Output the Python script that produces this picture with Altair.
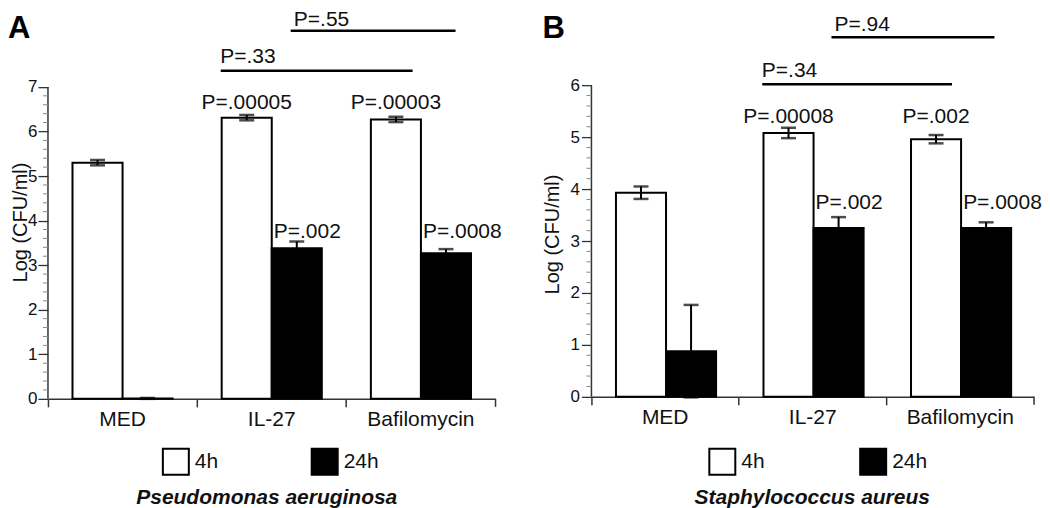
import altair as alt
import pandas as pd

FONT = "Liberation Sans"

treatments = ["MED", "IL-27", "Bafilomycin"]
times = ["4h", "24h"]

# ---------------- Panel A : Pseudomonas aeruginosa ----------------
a_mean_4h = [5.30, 6.31, 6.27]
a_err_4h = [0.06, 0.06, 0.06]
a_mean_24h = [0.01, 3.38, 3.27]
a_err_24h = [0.01, 0.15, 0.09]
a_p_4h = ["", "P=.00005", "P=.00003"]
a_p_24h = ["", "P=.002", "P=.0008"]
a_p_4h_y = 6.51
a_p_24h_y = 3.62
a_bracket_labels = ["P=.33", "P=.55"]
a_bracket_y = [7.36, 8.26]
a_bracket_text_y = [7.53, 8.37]

# ---------------- Panel B : Staphylococcus aureus ----------------
b_mean_4h = [3.93, 5.08, 4.96]
b_err_4h = [0.12, 0.10, 0.08]
b_mean_24h = [0.88, 3.25, 3.25]
b_err_24h = [0.89, 0.21, 0.11]
b_p_4h = ["", "P=.00008", "P=.002"]
b_p_24h = ["", "P=.002", "P=.0008"]
b_p_4h_y = 5.27
b_p_24h_y = 3.62
b_bracket_labels = ["P=.34", "P=.94"]
b_bracket_y = [6.02, 6.92]
b_bracket_text_y = [6.15, 7.05]

# bracket extents in category units (0..3 across the x axis)
bracket_start = [1.158, 1.627]
bracket_end = [2.444, 2.732]
bracket_text_x = [1.155, 1.648]


def build_panel(letter, species, m4, e4, m24, e24, p4, p24, p4y, p24y,
                blab, by, bty, axis_max, ytop, W, H,
                letter_x, title_x, title_y, label_pad, legend_x, legend_pad, species_x):
    rows = []
    for i, t in enumerate(treatments):
        rows.append(dict(treatment=t, time="4h", value=m4[i], lo=m4[i] - e4[i],
                         hi=m4[i] + e4[i], p=p4[i], py=p4y))
        rows.append(dict(treatment=t, time="24h", value=m24[i], lo=m24[i] - e24[i],
                         hi=m24[i] + e24[i], p=p24[i], py=p24y))
    df = pd.DataFrame(rows)
    df4 = df[df.time == "4h"]
    df24 = df[df.time == "24h"]

    xscale = alt.Scale(domain=treatments, paddingInner=0, paddingOuter=0)
    offscale = alt.Scale(domain=times, paddingInner=0, paddingOuter=0.49)
    yscale = alt.Scale(domain=[0, ytop], nice=False, zero=False)
    qscale = alt.Scale(domain=[0, 3], nice=False, zero=False)

    major_vals = list(range(axis_max + 1))
    minor_vals = [round(i + k * 0.2, 1) for i in range(axis_max) for k in range(1, 5)]

    xaxis = alt.Axis(title=None, bandPosition=0, tickSize=8, tickColor="#333",
                     tickWidth=1.5, domainColor="#333", domainWidth=1.5,
                     labelFontSize=21, labelFont=FONT, labelColor="#111",
                     labelPadding=2, labelAngle=0)
    yaxis = alt.Axis(title="Log (CFU/ml)", values=major_vals, format="d", domain=False,
                     grid=False, tickSize=10, tickColor="#333", tickWidth=1.3,
                     labelFontSize=17, labelFont=FONT, labelColor="#111",
                     labelPadding=label_pad, labelOverlap=False,
                     titleFontSize=20, titleFont=FONT, titleFontWeight="normal",
                     titleColor="#111", titleAngle=270, titleAlign="center",
                     titleBaseline="middle", titleX=title_x, titleY=title_y)

    def Y(field):
        return alt.Y(field, scale=yscale, axis=yaxis)

    X = alt.X("treatment:N", sort=treatments, scale=xscale, axis=xaxis)
    Xn = alt.X("treatment:N", sort=treatments, scale=xscale, axis=None)
    XO = alt.XOffset("time:N", sort=times, scale=offscale)

    legend = alt.Legend(orient="none", legendX=legend_x, legendY=439, direction="horizontal",
                        title=None, symbolType="square", symbolSize=676,
                        symbolStrokeColor="black", symbolStrokeWidth=2,
                        labelFontSize=21, labelFont=FONT, labelColor="#111",
                        labelOffset=5, columnPadding=legend_pad, padding=0)

    bars = alt.Chart(df).mark_bar(stroke="black", strokeWidth=2).encode(
        x=X, xOffset=XO,
        y=Y("value:Q"),
        fill=alt.Fill("time:N", sort=times,
                      scale=alt.Scale(domain=times, range=["white", "black"]),
                      legend=legend),
    )
    whisk = alt.Chart(df).mark_rule(color="black", strokeWidth=2).encode(
        x=Xn, xOffset=XO, y=Y("lo:Q"), y2="hi:Q",
    )
    caps = alt.Chart(df).transform_fold(["lo", "hi"], as_=["end", "ev"]).mark_tick(
        color="black", thickness=2.5, size=15
    ).encode(x=Xn, xOffset=XO, y=Y("ev:Q"))
    lab4 = alt.Chart(df4).mark_text(align="center", baseline="alphabetic", fontSize=21,
                                    font=FONT, color="#111").encode(
        x=Xn, xOffset=XO, y=Y("py:Q"), text="p:N")
    lab24 = alt.Chart(df24).mark_text(align="left", baseline="alphabetic", fontSize=21,
                                      font=FONT, color="#111", dx=-23).encode(
        x=Xn, xOffset=XO, y=Y("py:Q"), text="p:N")

    bdf = pd.DataFrame(dict(x0=bracket_start, x1=bracket_end, by=by, label=blab,
                            tx=bracket_text_x, ty=bty))
    brule = alt.Chart(bdf).mark_rule(color="black", strokeWidth=2.5).encode(
        x=alt.X("x0:Q", scale=qscale, axis=None), x2="x1:Q", y=Y("by:Q"))
    btext = alt.Chart(bdf).mark_text(align="left", baseline="alphabetic", fontSize=21,
                                     font=FONT, color="#111").encode(
        x=alt.X("tx:Q", scale=qscale, axis=None), y=Y("ty:Q"), text="label:N")

    endtick = alt.Chart(pd.DataFrame({"k": [0]})).mark_rule(color="#333", strokeWidth=1.5).encode(
        x=alt.value(W), y=alt.value(H), y2=alt.value(H + 8))
    yline = alt.Chart(pd.DataFrame({"y0": [0], "y1": [axis_max]})).mark_rule(
        color="#333", strokeWidth=1.5).encode(x=alt.value(0), y=Y("y0:Q"), y2="y1:Q")
    minor = alt.Chart(pd.DataFrame({"m": minor_vals})).mark_rule(
        color="#888", strokeWidth=1).encode(x=alt.value(-5), x2=alt.value(0), y=Y("m:Q"))

    letter_t = alt.Chart(pd.DataFrame({"t": [letter]})).mark_text(
        align="left", baseline="alphabetic", fontSize=31, fontWeight="bold", font=FONT,
        color="black").encode(x=alt.value(letter_x), y=alt.value(28.5), text="t:N")
    species_t = alt.Chart(pd.DataFrame({"t": [species]})).mark_text(
        align="center", baseline="alphabetic", fontSize=21, fontWeight="bold",
        fontStyle="italic", font=FONT, color="#111").encode(
        x=alt.value(species_x), y=alt.value(495), text="t:N")

    return alt.layer(
        bars, yline, minor, whisk, caps, lab4, lab24, brule, btext, endtick, letter_t, species_t
    ).resolve_scale(x="independent").properties(width=W, height=H)


panel_a = build_panel("A", "Pseudomonas aeruginosa",
                      a_mean_4h, a_err_4h, a_mean_24h, a_err_24h,
                      a_p_4h, a_p_24h, a_p_4h_y, a_p_24h_y,
                      a_bracket_labels, a_bracket_y, a_bracket_text_y,
                      axis_max=7, ytop=390 / 44.61, W=448, H=390,
                      letter_x=-40, title_x=-27.5, title_y=213, label_pad=1,
                      legend_x=114, legend_pad=89, species_x=219)

panel_b = build_panel("B", "Staphylococcus aureus",
                      b_mean_4h, b_err_4h, b_mean_24h, b_err_24h,
                      b_p_4h, b_p_24h, b_p_4h_y, b_p_24h_y,
                      b_bracket_labels, b_bracket_y, b_bracket_text_y,
                      axis_max=6, ytop=388 / 52.0, W=443, H=388,
                      letter_x=-49, title_x=-39, title_y=225, label_pad=2,
                      legend_x=117, legend_pad=91, species_x=221)

chart = alt.hconcat(panel_a, panel_b, spacing=96, bounds="flush").resolve_scale(
    x="independent", y="independent", fill="independent"
).resolve_legend(fill="independent").properties(padding=0).configure(
    font=FONT
).configure_view(stroke=None)

chart.save("out.html", embed_options={"renderer": "svg", "actions": False})
